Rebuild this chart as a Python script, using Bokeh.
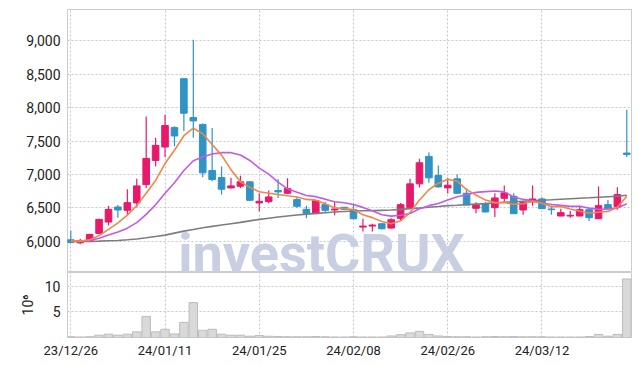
from bokeh.plotting import figure
from bokeh.layouts import column
from bokeh.models import Range1d, FixedTicker, NumeralTickFormatter, ColumnDataSource
from bokeh.core.properties import value
from bokeh.embed import file_html
from bokeh.resources import INLINE

# ---------------- data ----------------
dates = ["23/12/26", "23/12/27", "23/12/28", "24/01/02", "24/01/03", "24/01/04", "24/01/05",
         "24/01/08", "24/01/09", "24/01/10", "24/01/11", "24/01/12", "24/01/15", "24/01/16",
         "24/01/17", "24/01/18", "24/01/19", "24/01/22", "24/01/23", "24/01/24", "24/01/25",
         "24/01/26", "24/01/29", "24/01/30", "24/01/31", "24/02/01", "24/02/02", "24/02/05",
         "24/02/06", "24/02/07", "24/02/08", "24/02/13", "24/02/14", "24/02/15", "24/02/16",
         "24/02/19", "24/02/20", "24/02/21", "24/02/22", "24/02/23", "24/02/26", "24/02/27",
         "24/02/28", "24/02/29", "24/03/04", "24/03/05", "24/03/06", "24/03/07", "24/03/08",
         "24/03/11", "24/03/12", "24/03/13", "24/03/14", "24/03/15", "24/03/18", "24/03/19",
         "24/03/20", "24/03/21", "24/03/22", "24/03/25"]

opens = [6025, 5980, 6000, 6120, 6290, 6515, 6465, 6575, 6850, 7210,
         7410, 7700, 8430, 7850, 7745, 7060, 6955, 6800, 6825, 6890,
         6575, 6595, 6760, 6720, 6625, 6480, 6415, 6550, 6470, 6510,
         6475, 6215, 6230, 6265, 6200, 6345, 6505, 6860, 7270, 6985,
         6800, 6935, 6720, 6495, 6560, 6505, 6645, 6675, 6470, 6590,
         6635, 6485, 6380, 6380, 6380, 6475, 6340, 6550, 6520, 7320]
highs = [6165, 6040, 6115, 6340, 6530, 6545, 6780, 6935, 7865, 7550,
         7890, 7720, 8440, 9010, 7760, 7695, 7120, 6950, 6980, 6900,
         6720, 6760, 6930, 6945, 6670, 6535, 6620, 6595, 6590, 6520,
         6565, 6340, 6265, 6270, 6345, 6575, 6935, 7235, 7330, 7135,
         6950, 7000, 6790, 6585, 6590, 6720, 6835, 6720, 6590, 6835,
         6660, 6535, 6490, 6455, 6535, 6480, 6820, 6620, 6810, 7965]
lows = [5975, 5960, 5995, 6110, 6240, 6355, 6390, 6510, 6800, 7120,
        7260, 7420, 7650, 7550, 6960, 6900, 6700, 6790, 6800, 6605,
        6450, 6570, 6650, 6710, 6505, 6345, 6410, 6420, 6390, 6470,
        6330, 6150, 6150, 6180, 6195, 6320, 6500, 6805, 6875, 6805,
        6715, 6710, 6540, 6420, 6435, 6365, 6585, 6410, 6400, 6535,
        6485, 6400, 6375, 6355, 6375, 6305, 6335, 6480, 6475, 7260]
closes = [5985, 6010, 6105, 6330, 6480, 6470, 6580, 6830, 7240, 7435,
          7730, 7575, 7915, 7800, 7025, 6925, 6780, 6830, 6890, 6615,
          6600, 6665, 6740, 6790, 6525, 6420, 6610, 6465, 6485, 6480,
          6340, 6230, 6245, 6190, 6325, 6550, 6860, 7175, 6950, 6815,
          6840, 6720, 6545, 6545, 6440, 6650, 6725, 6415, 6585, 6635,
          6490, 6475, 6430, 6390, 6475, 6355, 6535, 6490, 6700, 7300]
ma5 = [6005, 6005, 6024, 6088, 6182, 6279, 6393, 6538, 6720, 6911,
       7163, 7362, 7579, 7691, 7609, 7448, 7289, 7072, 6890, 6808,
       6743, 6720, 6702, 6682, 6664, 6628, 6617, 6562, 6501, 6492,
       6476, 6400, 6356, 6297, 6266, 6308, 6434, 6620, 6772, 6870,
       6928, 6900, 6774, 6693, 6618, 6580, 6581, 6555, 6563, 6602,
       6570, 6520, 6523, 6484, 6452, 6425, 6437, 6449, 6511, 6676]
ma10 = [6008, 6008, 6017, 6049, 6096, 6142, 6199, 6281, 6404, 6547,
        6721, 6878, 7059, 7206, 7260, 7306, 7326, 7326, 7291, 7209,
        7096, 7005, 6887, 6786, 6736, 6686, 6669, 6632, 6592, 6578,
        6552, 6509, 6459, 6399, 6379, 6392, 6417, 6488, 6535, 6568,
        6618, 6667, 6697, 6733, 6744, 6754, 6741, 6665, 6628, 6610,
        6575, 6551, 6539, 6524, 6527, 6498, 6479, 6486, 6498, 6564]
ma_long = [6000, 6000, 6002, 6005, 6010, 6015, 6025, 6038, 6055, 6075,
           6095, 6125, 6155, 6180, 6205, 6225, 6245, 6265, 6285, 6308,
           6330, 6348, 6365, 6380, 6395, 6408, 6420, 6430, 6440, 6448,
           6455, 6458, 6460, 6465, 6470, 6480, 6490, 6500, 6510, 6522,
           6535, 6542, 6550, 6558, 6565, 6575, 6585, 6592, 6600, 6608,
           6615, 6622, 6630, 6638, 6645, 6652, 6660, 6668, 6675, 6690]
volume = [0.15, 0.1, 0.15, 0.45, 0.65, 0.45, 0.65, 1.1, 4.1, 1.1,
          1.6, 0.7, 2.95, 6.8, 1.4, 1.6, 0.65, 0.45, 0.45, 0.25,
          0.4, 0.25, 0.2, 0.15, 0.15, 0.15, 0.2, 0.15, 0.1, 0.1,
          0.15, 0.1, 0.1, 0.1, 0.3, 0.55, 0.9, 1.2, 0.6, 0.3,
          0.2, 0.15, 0.15, 0.1, 0.15, 0.2, 0.15, 0.2, 0.15, 0.15,
          0.15, 0.1, 0.1, 0.1, 0.1, 0.2, 0.6, 0.25, 0.6, 11.4]
price_ticks = [6000, 6500, 7000, 7500, 8000, 8500, 9000]
volume_ticks = [5, 10]
date_tick_idx = [0, 10, 20, 30, 40, 50]

# ---------------- styling ----------------
PINK = "#e8196b"
BLUE = "#2f93c6"
FONT = "Roboto"
GRID = "#c3c6d8"
LABEL = "#222222"

idx = list(range(len(dates)))
colors = [PINK if c >= o else BLUE for o, c in zip(opens, closes)]
src = ColumnDataSource(dict(
    x=idx, h=highs, l=lows,
    top=[max(o, c) for o, c in zip(opens, closes)],
    bottom=[min(o, c) for o, c in zip(opens, closes)],
    color=colors))

x_range = Range1d(-0.35, 59.5)

p1 = figure(frame_width=564, frame_height=263, x_range=x_range,
            y_range=Range1d(5537, 9463), output_backend="svg",
            toolbar_location=None, x_axis_location=None,
            min_border_left=67, min_border_right=1, min_border_top=9,
            min_border_bottom=0)
p1.outline_line_color = "#cccccc"
p1.yaxis.ticker = FixedTicker(ticks=price_ticks)
p1.ygrid.ticker = FixedTicker(ticks=price_ticks)
p1.xgrid.ticker = FixedTicker(ticks=date_tick_idx)
p1.yaxis.formatter = NumeralTickFormatter(format="0,0")
for g in (p1.xgrid, p1.ygrid):
    g.grid_line_color = GRID
    g.grid_line_dash = "2 2"
p1.yaxis.axis_line_color = None
p1.yaxis.major_tick_line_color = None
p1.yaxis.minor_tick_line_color = None
p1.yaxis.major_tick_out = 0
p1.yaxis.major_label_standoff = 7
p1.yaxis.major_label_text_font = FONT
p1.yaxis.major_label_text_font_size = "14px"
p1.yaxis.major_label_text_color = LABEL

# watermark
p1.text(x=[11.4], y=[5828], text=["investCRUX"], text_font=value(FONT),
        text_font_style="bold", text_font_size="54px", text_color="#c9cfe3",
        text_baseline="middle", text_align="left")

# candles
p1.segment(x0="x", y0="h", x1="x", y1="l", line_color="color", line_width=1.2, source=src)
p1.vbar(x="x", width=0.7, top="top", bottom="bottom", fill_color="color",
        line_color="color", line_width=1, source=src)

# moving averages
p1.line(idx, ma_long, line_color="#7d7d7d", line_width=1.6)
p1.line(idx, ma10, line_color="#c55ae6", line_width=1.6)
p1.line(idx, ma5, line_color="#ef874a", line_width=1.6)

p2 = figure(frame_width=564, frame_height=65, x_range=x_range,
            y_range=Range1d(0, 12.67), output_backend="svg",
            toolbar_location=None, min_border_left=67, min_border_right=1,
            min_border_top=0, min_border_bottom=0)
p2.outline_line_color = "#cccccc"
p2.vbar(x=idx, top=volume, bottom=0, width=0.9, fill_color="#d9d9d9",
        line_color="#bcbcbc", line_width=1)
p2.xaxis.ticker = FixedTicker(ticks=date_tick_idx)
p2.xgrid.ticker = FixedTicker(ticks=date_tick_idx)
p2.xaxis.major_label_overrides = {i: dates[i] for i in date_tick_idx}
p2.yaxis.ticker = FixedTicker(ticks=volume_ticks)
p2.ygrid.ticker = FixedTicker(ticks=volume_ticks)
p2.yaxis.axis_label = "10⁶"
p2.yaxis.axis_label_text_font = FONT
p2.yaxis.axis_label_text_font_style = "normal"
p2.yaxis.axis_label_text_font_size = "14px"
p2.yaxis.axis_label_text_color = LABEL
p2.yaxis.axis_label_standoff = 6
for g in (p2.xgrid, p2.ygrid):
    g.grid_line_color = GRID
    g.grid_line_dash = "2 2"
for ax in (p2.xaxis, p2.yaxis):
    ax.axis_line_color = None
    ax.major_tick_line_color = None
    ax.minor_tick_line_color = None
    ax.major_tick_out = 0
    ax.major_label_text_font = FONT
    ax.major_label_text_font_size = "14px"
    ax.major_label_text_color = LABEL
p2.xaxis.major_label_text_font_size = "13px"
p2.yaxis.major_label_standoff = 7
p2.xaxis.major_label_standoff = 5

layout = column(p1, p2, spacing=0)
open("out.html", "w").write(file_html(layout, INLINE))
